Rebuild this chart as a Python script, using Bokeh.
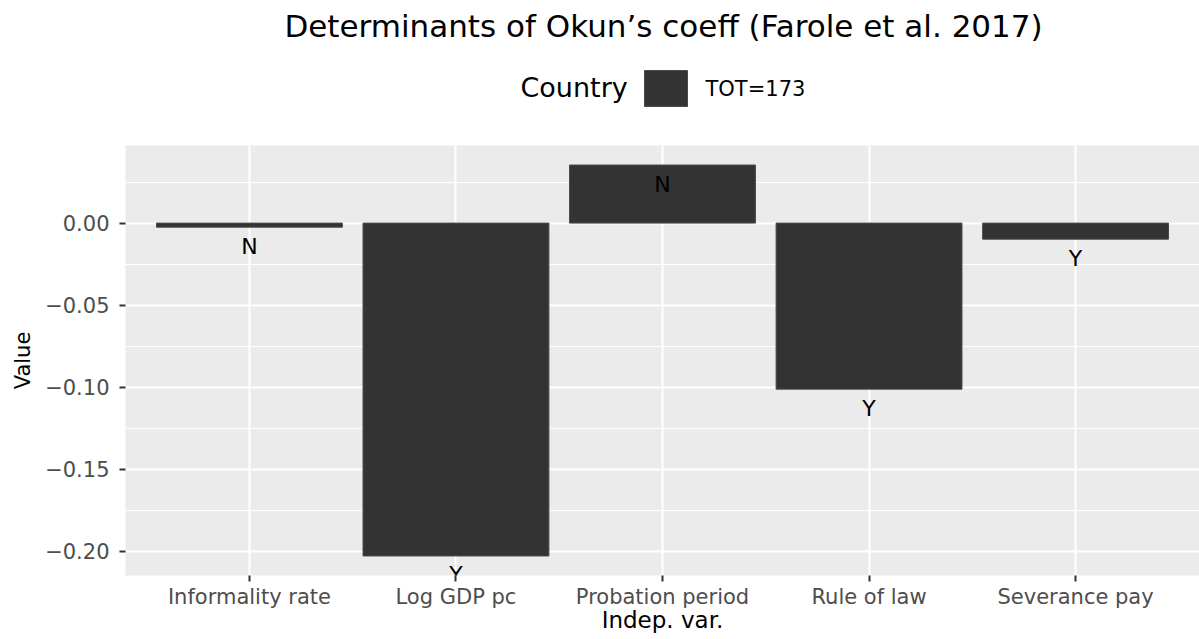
from bokeh.plotting import figure
from bokeh.layouts import column
from bokeh.models import (ColumnDataSource, FactorRange, Range1d, FixedTicker, LabelSet)
from bokeh.core.properties import value
from bokeh.embed import file_html
from bokeh.resources import INLINE

# ---- data ----
categories = ["Informality rate", "Log GDP pc", "Probation period", "Rule of law", "Severance pay"]
values = [-0.0025, -0.2029, 0.0354, -0.1012, -0.0098]
significant = ["N", "Y", "N", "Y", "Y"]
y_ticks = [-0.20, -0.15, -0.10, -0.05, 0.00]
y_tick_labels = ["\u22120.20", "\u22120.15", "\u22120.10", "\u22120.05", "0.00"]
y_minor_ticks = [-0.175, -0.125, -0.075, -0.025, 0.025]
legend_title = "Country"
legend_label = "TOT=173"
chart_title = "Determinants of Okun\u2019s coeff (Farole et al. 2017)"
x_title = "Indep. var."
y_title = "Value"

FONT = "DejaVu Sans"
BAR_FILL = "#333333"
BAR_LINE = "#4a4a4a"
W = 1199
HEAD_H = 145
FRAME_LEFT = 125

# ---------------- header (title + legend) ----------------
# the column aligns this frame with the main plot's frame, so map x to page pixels
head = figure(width=W, height=HEAD_H, x_range=Range1d(FRAME_LEFT, W), y_range=Range1d(0, HEAD_H),
              output_backend="svg", toolbar_location=None,
              x_axis_location=None, y_axis_location=None,
              min_border_left=FRAME_LEFT, min_border_right=0, min_border_top=0, min_border_bottom=0)
head.grid.visible = False
head.outline_line_color = None
head.background_fill_color = "white"
head.border_fill_color = "white"

head.text(x=[663], y=[HEAD_H - 25], text=[chart_title], text_align="center",
          text_baseline="middle", text_font=value(FONT), text_font_size="31px",
          text_color="black")
head.text(x=[520], y=[HEAD_H - 87], text=[legend_title], text_align="left",
          text_baseline="middle", text_font=value(FONT), text_font_size="27px",
          text_color="black")
head.quad(left=[644], right=[687], top=[HEAD_H - 70], bottom=[HEAD_H - 106],
          fill_color=BAR_FILL, line_color=BAR_LINE, line_width=1)
head.text(x=[705], y=[HEAD_H - 88], text=[legend_label], text_align="left",
          text_baseline="middle", text_font=value(FONT), text_font_size="21px",
          text_color="black")

# ---------------- main plot ----------------
source = ColumnDataSource(dict(cat=categories, val=values, sig=significant))

p = figure(
    x_range=FactorRange(*categories, range_padding=0.1, range_padding_units="absolute"),
    y_range=Range1d(-0.2148, 0.0473),
    width=W, height=639 - HEAD_H,
    output_backend="svg", toolbar_location=None,
    min_border_left=FRAME_LEFT, min_border_right=0, min_border_top=0, min_border_bottom=64,
)
p.background_fill_color = "#EBEBEB"
p.border_fill_color = "white"
p.outline_line_color = None

p.xgrid.grid_line_color = "white"
p.xgrid.grid_line_width = 2
p.ygrid.grid_line_color = "white"
p.ygrid.grid_line_width = 2
p.ygrid.minor_grid_line_color = "white"
p.ygrid.minor_grid_line_width = 1

r = p.vbar(x="cat", top="val", bottom=0, width=0.9, source=source,
           fill_color=BAR_FILL, line_color=BAR_LINE, line_width=1)

labels = LabelSet(x="cat", y="val", text="sig", source=source, y_offset=-19,
                  text_align="center", text_baseline="middle",
                  text_font=value(FONT), text_font_size="22px", text_color="black")
p.add_layout(labels)

p.yaxis.ticker = FixedTicker(ticks=y_ticks, minor_ticks=y_minor_ticks)
p.yaxis.major_label_overrides = {t: l for t, l in zip(y_ticks, y_tick_labels)}
for ax in (p.xaxis[0], p.yaxis[0]):
    ax.axis_line_color = None
    ax.major_tick_line_color = "#333333"
    ax.major_tick_line_width = 2
    ax.major_tick_out = 6
    ax.major_tick_in = 0
    ax.minor_tick_line_color = None
    ax.major_label_text_font = FONT
    ax.major_label_text_font_size = "21px"
    ax.major_label_text_color = "#4D4D4D"
    ax.axis_label_text_font = FONT
    ax.axis_label_text_font_style = "normal"
    ax.axis_label_text_color = "black"
p.xaxis.axis_label = x_title
p.yaxis.axis_label = y_title
p.xaxis.axis_label_text_font_size = "23px"
p.yaxis.axis_label_text_font_size = "21px"
p.xaxis.major_label_standoff = 3
p.xaxis.axis_label_standoff = -5
p.yaxis.major_label_standoff = 10
p.yaxis.axis_label_standoff = 7

layout = column(head, p, spacing=0)
open("out.html", "w").write(file_html(layout, INLINE))
